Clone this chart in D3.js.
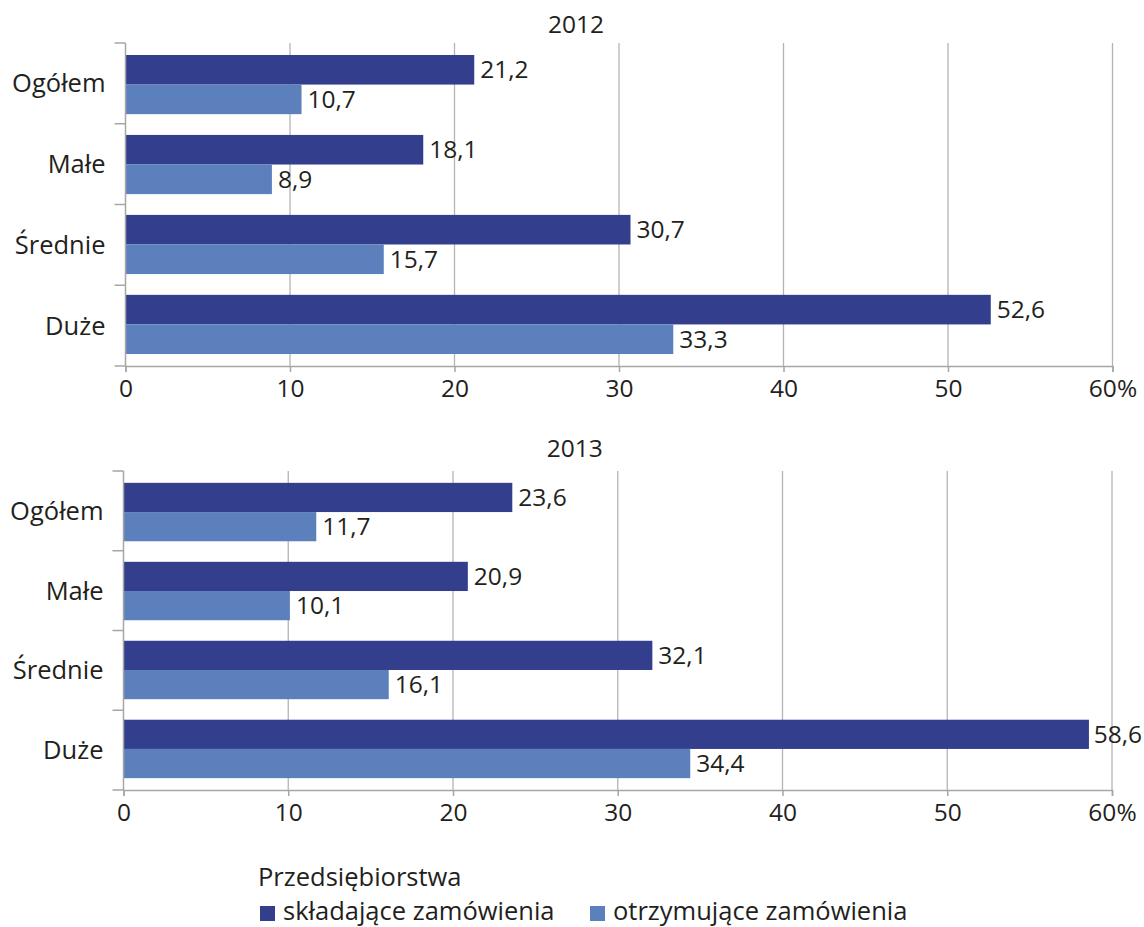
<!DOCTYPE html>
<html>
<head>
<meta charset="utf-8">
<script src="https://cdn.jsdelivr.net/npm/d3@7"></script>
<style>
  html, body { margin: 0; padding: 0; background: #fff; }
  svg text { font-family: "Open Sans", "Noto Sans", sans-serif; fill: #231f20; }
</style>
</head>
<body>
<svg id="chart" width="1144" height="927"></svg>
<script>
// ---- data ----
const categories = ["Ogółem", "Małe", "Średnie", "Duże"];
const seriesNames = ["składające zamówienia", "otrzymujące zamówienia"];
const years = ["2012", "2013"];
const placing2012 = [21.2, 18.1, 30.7, 52.6];
const receiving2012 = [10.7, 8.9, 15.7, 33.3];
const placing2013 = [23.6, 20.9, 32.1, 58.6];
const receiving2013 = [11.7, 10.1, 16.1, 34.4];
const xTicks = [0, 10, 20, 30, 40, 50, 60];
const xTickLabels = ["0", "10", "20", "30", "40", "50", "60%"];
const legendTitle = "Przedsiębiorstwa";

const colors = ["#333e8c", "#5b80bb"];
const W = 1144;

const svg = d3.select("#chart");
const fmt = v => String(v).replace(".", ",");

const panels = [
  { year: years[0], data: [placing2012, receiving2012], x0: 125.5, x1: 1112.5, top: 43, bottom: 366, titleY: 33 },
  { year: years[1], data: [placing2013, receiving2013], x0: 123.5, x1: 1112, top: 471, bottom: 790, titleY: 457 }
];

panels.forEach(p => {
  const g = svg.append("g");
  const x = d3.scaleLinear().domain([0, 60]).range([p.x0, p.x1]);
  const yCat = d3.scaleBand().domain(categories).range([p.top, p.bottom]).paddingInner(0.26).paddingOuter(0.15);
  const yBound = d3.scaleBand().domain(categories).range([p.top, p.bottom]);
  const ySer = d3.scaleBand().domain([0, 1]).range([0, yCat.bandwidth()]);

  // title
  g.append("text").attr("x", (p.x0 + p.x1) / 2 - 43).attr("y", p.titleY)
    .attr("text-anchor", "middle").style("font-size", "24.5px").text(p.year);

  // gridlines
  g.selectAll("line.grid").data(xTicks.slice(1)).enter().append("line")
    .attr("x1", d => x(d)).attr("x2", d => x(d))
    .attr("y1", p.top).attr("y2", p.bottom)
    .attr("stroke", "#b4b4b4").attr("stroke-width", 1.3);

  // bars
  [0, 1].forEach(s => {
    g.selectAll("rect.s" + s).data(p.data[s]).enter().append("rect")
      .attr("x", x(0))
      .attr("y", (d, i) => yCat(categories[i]) + ySer(s))
      .attr("width", d => x(d) - x(0))
      .attr("height", ySer.bandwidth())
      .attr("fill", colors[s]);
    g.selectAll("text.v" + s).data(p.data[s]).enter().append("text")
      .attr("y", (d, i) => yCat(categories[i]) + ySer(s) + ySer.bandwidth() / 2)
      .attr("dy", "0.35em")
      .style("font-size", "24.5px")
      .text(d => fmt(d))
      .each(function(d) {
        const w = this.getComputedTextLength();
        const xx = Math.min(x(d) + 6, W - w - 2);
        d3.select(this).attr("x", xx);
      });
  });

  // left axis line and ticks
  g.append("line").attr("x1", x(0)).attr("x2", x(0)).attr("y1", p.top).attr("y2", p.bottom)
    .attr("stroke", "#a6a6a6").attr("stroke-width", 1.5);
  const bounds = categories.map(c => yBound(c)).concat([p.bottom]);
  g.selectAll("line.lt").data(bounds).enter().append("line")
    .attr("x1", x(0) - 11).attr("x2", x(0)).attr("y1", d => d).attr("y2", d => d)
    .attr("stroke", "#a6a6a6").attr("stroke-width", 1.5);

  // category labels
  g.selectAll("text.cat").data(categories).enter().append("text")
    .attr("x", x(0) - 20).attr("y", c => yBound(c) + yBound.bandwidth() / 2)
    .attr("dy", "0.35em").attr("text-anchor", "end").style("font-size", "25.5px")
    .text(c => c);

  // bottom axis
  const axis = d3.axisBottom(x).tickValues(xTicks).tickSize(6).tickPadding(8)
    .tickFormat((d, i) => xTickLabels[i]);
  const ag = g.append("g").attr("transform", `translate(0,${p.bottom})`).call(axis);
  ag.select(".domain").attr("stroke", "#a6a6a6").attr("stroke-width", 1.5);
  ag.selectAll(".tick line").attr("stroke", "#a6a6a6").attr("stroke-width", 1.5);
  ag.selectAll(".tick text").style("font-size", "24.5px").style("font-family", '"Open Sans", sans-serif').attr("fill", "#231f20");
});

// legend
const lg = svg.append("g");
lg.append("text").attr("x", 258).attr("y", 886).style("font-size", "25.5px").text(legendTitle);
const legendX = [260, 590];
seriesNames.forEach((n, i) => {
  lg.append("rect").attr("x", legendX[i]).attr("y", 906).attr("width", 15).attr("height", 15).attr("fill", colors[i]);
  lg.append("text").attr("x", legendX[i] + 23).attr("y", 920).style("font-size", "25.5px").text(n);
});
</script>
</body>
</html>
